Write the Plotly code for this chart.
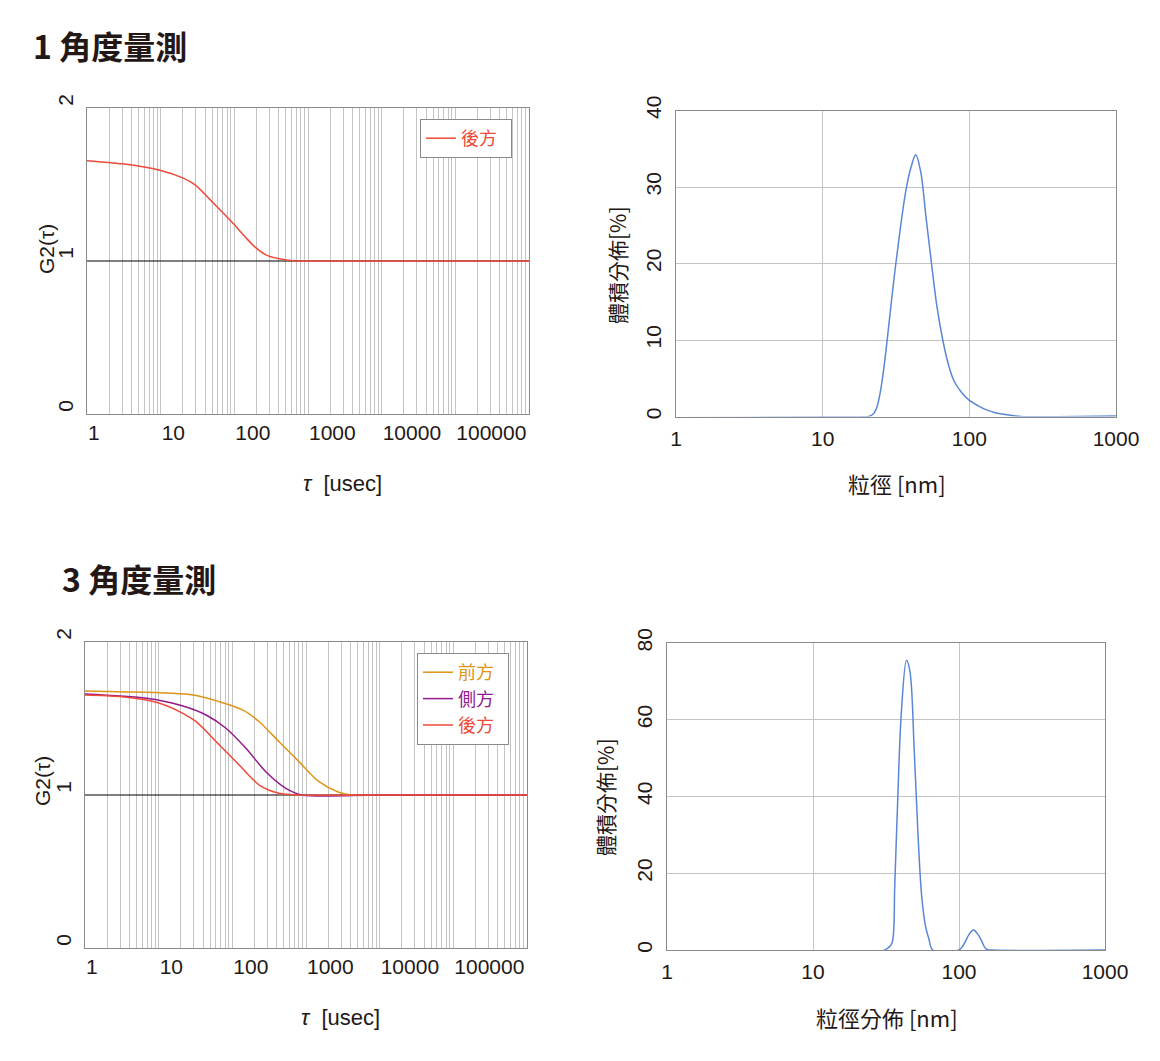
import plotly.graph_objects as go

# page body has an 8px margin: figure is drawn at (8, 8)
OFF = 8
W, H = 1160 - OFF, 1061 - OFF

# ---------------- data ----------------
# 1-angle measurement: correlation function (後方)
tau_back1 = [1, 3, 9.5, 20.6, 29.7, 49.7, 67.7, 92, 140, 190, 273, 392, 658, 1000, 10000, 1000000]
g2_back1 = [1.656, 1.635, 1.595, 1.54, 1.496, 1.388, 1.322, 1.256, 1.158, 1.092, 1.038, 1.016, 1.0, 1.0, 1.0, 1.0]

# 1-angle measurement: volume distribution
d1_nm = [1, 3.2, 10, 18, 20.6, 22, 23.2, 24.5, 26, 31.5, 36.9, 40.2, 43.1, 46.5, 50.7, 55.3, 60, 65.9,
         72, 78.4, 88, 100, 115, 131, 150, 177, 224, 400, 1000]
vol1 = [-0.15, -0.12, -0.08, -0.05, 0.0, 0.3, 1.0, 2.8, 6.0, 19.9, 29.5, 32.7, 34.2, 32.1, 26.0, 19.9, 14.5, 10.0,
        6.8, 4.7, 3.2, 2.1, 1.4, 0.87, 0.5, 0.26, 0.0, -0.02, 0.05]

# 3-angle measurement: correlation functions
tau_front = [1, 2.97, 29.1, 66.7, 138, 232, 431, 804, 1500, 2790, 4225, 10000, 1000000]
g2_front = [1.68, 1.675, 1.654, 1.61, 1.556, 1.479, 1.348, 1.218, 1.087, 1.018, 1.0, 1.0, 1.0]
tau_side = [1, 6.8, 19.2, 44, 82, 153, 285, 532, 891, 10000, 1000000]
g2_side = [1.66, 1.632, 1.588, 1.523, 1.436, 1.305, 1.152, 1.044, 1.0, 1.0, 1.0]
tau_back3 = [1, 2.97, 10.3, 21.3, 32.3, 66.7, 124, 232, 431, 804, 10000, 1000000]
g2_back3 = [1.654, 1.643, 1.6, 1.534, 1.479, 1.327, 1.196, 1.065, 1.011, 1.0, 1.0, 1.0]
baseline_tau = [1, 1000000]
baseline_g2 = [1.0, 1.0]

# 3-angle measurement: volume distribution
d3_nm = [1, 10, 30, 32.8, 34.8, 36.3, 38.0, 40.3, 43.7, 46.1, 49.4, 52.4, 55.5, 58.9, 62.3, 66.1, 100, 108, 117,
         125.6, 134, 141, 154, 170, 1000]
vol3 = [-0.25, -0.25, -0.2, 0.6, 1.9, 16.8, 38.6, 62, 75.5, 72.7, 51.7, 29.9, 14.1, 6.3, 2.8, 0, 0, 1.5, 4,
        5.2, 4.2, 2.8, 0.2, 0, 0]

# tick labels
tau_labels = ["1", "10", "100", "1000", "10000", "100000"]
nm_labels = ["1", "10", "100", "1000"]
g2_ticks = [0, 1, 2]
vol1_ticks = [0, 10, 20, 30, 40]
vol3_ticks = [0, 20, 40, 60, 80]

names = {"front": "前方", "side": "側方", "back": "後方"}
C_FRONT, C_SIDE, C_BACK = "#DE9417", "#92198E", "#EE4A3A"
C_BLUE = "#5A86D6"

FONT = "Liberation Sans, Arial, Noto Sans CJK TC, sans-serif"
CJK = "Noto Sans CJK TC, Liberation Sans, sans-serif"
TXT = "#231815"
GRID = "#C4C4C4"
BORDER = "#8A8A8A"

# ---------------- figure ----------------
fig = go.Figure()

def px_dom_x(a, b):
    return [(a - OFF) / W, (b - OFF) / W]

def px_dom_y(top, bottom):
    return [1 - (bottom - OFF) / H, 1 - (top - OFF) / H]

def px_x(a):
    return (a - OFF) / W

def px_y(b):
    return 1 - (b - OFF) / H

# baselines
fig.add_trace(go.Scatter(x=baseline_tau, y=baseline_g2, mode="lines", line=dict(color="black", width=1.2),
                         showlegend=False, xaxis="x", yaxis="y", hoverinfo="skip"))
fig.add_trace(go.Scatter(x=baseline_tau, y=baseline_g2, mode="lines", line=dict(color="black", width=1.2),
                         showlegend=False, xaxis="x3", yaxis="y3", hoverinfo="skip"))

def lab(name, color):
    return f"<span style='color:{color}'>{name}</span>\u00a0\u00a0"

fig.add_trace(go.Scatter(x=tau_back1, y=g2_back1, mode="lines", name=lab(names["back"], C_BACK),
                         line=dict(color=C_BACK, width=1.5, shape="spline", smoothing=0.8),
                         xaxis="x", yaxis="y", legend="legend"))
fig.add_trace(go.Scatter(x=d1_nm, y=vol1, mode="lines", showlegend=False,
                         line=dict(color=C_BLUE, width=1.5, shape="spline", smoothing=1.0),
                         xaxis="x2", yaxis="y2"))
fig.add_trace(go.Scatter(x=tau_front, y=g2_front, mode="lines", name=lab(names["front"], C_FRONT),
                         line=dict(color=C_FRONT, width=1.5, shape="spline", smoothing=0.8),
                         xaxis="x3", yaxis="y3", legend="legend2"))
fig.add_trace(go.Scatter(x=tau_side, y=g2_side, mode="lines", name=lab(names["side"], C_SIDE),
                         line=dict(color=C_SIDE, width=1.5, shape="spline", smoothing=0.8),
                         xaxis="x3", yaxis="y3", legend="legend2"))
fig.add_trace(go.Scatter(x=tau_back3, y=g2_back3, mode="lines", name=lab(names["back"], C_BACK),
                         line=dict(color=C_BACK, width=1.5, shape="spline", smoothing=0.8),
                         xaxis="x3", yaxis="y3", legend="legend2"))
fig.add_trace(go.Scatter(x=d3_nm, y=vol3, mode="lines", showlegend=False,
                         line=dict(color=C_BLUE, width=1.5, shape="spline", smoothing=1.0),
                         xaxis="x4", yaxis="y4"))

# tick positions for log tau axis (all minor gridlines 1..9 per decade)
tau_tickvals, tau_ticktext = [], []
for k in range(6):
    for m in range(1, 10):
        tau_tickvals.append(m * 10 ** k)
        tau_ticktext.append(tau_labels[k] if m == 1 else "")
tau_tickvals.append(10 ** 6)
tau_ticktext.append("")

nm_tickvals = [1, 10, 100, 1000]

common_axis = dict(showline=True, mirror=True, linecolor=BORDER, linewidth=1, zeroline=False,
                   automargin=False, tickfont=dict(family=FONT, size=21, color=TXT))
hidden_tick = dict(ticks="outside", tickcolor="rgba(0,0,0,0)")

fig.update_layout(
    template="none",
    width=W, height=H, margin=dict(l=0, r=0, t=0, b=0, autoexpand=False),
    paper_bgcolor="white", plot_bgcolor="white",
    font=dict(family=FONT, color=TXT),
    xaxis=dict(domain=px_dom_x(87, 529), type="log", range=[0, 6], anchor="y",
               tickvals=tau_tickvals, ticktext=tau_ticktext, showgrid=True, gridcolor=GRID, gridwidth=1,
               tickangle=0, ticklen=4, ticklabelposition="outside right", **hidden_tick, **common_axis),
    yaxis=dict(domain=px_dom_y(108, 414), range=[0, 2], anchor="x", tickvals=g2_ticks, showgrid=False,
               tickangle=-90, ticklen=5, ticklabelshift=-5, **hidden_tick, **common_axis),
    xaxis2=dict(domain=px_dom_x(676, 1116), type="log", range=[0, 3], anchor="y2",
                tickvals=nm_tickvals, ticktext=nm_labels, showgrid=True, gridcolor=GRID, gridwidth=1,
                tickangle=0, ticklen=3, **hidden_tick, **common_axis),
    yaxis2=dict(domain=px_dom_y(110.5, 416.5), range=[0, 40], anchor="x2", tickvals=vol1_ticks,
                showgrid=True, gridcolor=GRID, gridwidth=1,
                tickangle=-90, ticklen=6, **hidden_tick, **common_axis),
    xaxis3=dict(domain=px_dom_x(85, 527), type="log", range=[0, 6], anchor="y3",
                tickvals=tau_tickvals, ticktext=tau_ticktext, showgrid=True, gridcolor=GRID, gridwidth=1,
                tickangle=0, ticklen=4, ticklabelposition="outside right", **hidden_tick, **common_axis),
    yaxis3=dict(domain=px_dom_y(642, 948), range=[0, 2], anchor="x3", tickvals=g2_ticks, showgrid=False,
                tickangle=-90, ticklen=5, ticklabelshift=-5, **hidden_tick, **common_axis),
    xaxis4=dict(domain=px_dom_x(667, 1105), type="log", range=[0, 3], anchor="y4",
                tickvals=nm_tickvals, ticktext=nm_labels, showgrid=True, gridcolor=GRID, gridwidth=1,
                tickangle=0, ticklen=3, **hidden_tick, **common_axis),
    yaxis4=dict(domain=px_dom_y(643, 950), range=[0, 80], anchor="x4", tickvals=vol3_ticks,
                showgrid=True, gridcolor=GRID, gridwidth=1,
                tickangle=-90, ticklen=6, **hidden_tick, **common_axis),
    legend=dict(x=px_x(420), y=px_y(119), xanchor="left", yanchor="top", bgcolor="white",
                bordercolor=BORDER, borderwidth=1, font=dict(family=CJK, size=18),
                itemwidth=30),
    legend2=dict(x=px_x(417), y=px_y(653), xanchor="left", yanchor="top", bgcolor="white",
                 bordercolor=BORDER, borderwidth=1, font=dict(family=CJK, size=18),
                 itemwidth=30),
)

def ann(text, px, py, size, angle=0, family=FONT, xanchor="center", bold=False):
    fig.add_annotation(text=(f"<b>{text}</b>" if bold else text), x=px_x(px), y=px_y(py),
                       xref="paper", yref="paper", showarrow=False, textangle=angle,
                       xanchor=xanchor, yanchor="middle",
                       font=dict(family=family, size=size, color=TXT))

# section titles
ann("1 角度量測", 31, 45, 32, family=CJK, xanchor="left", bold=True)
ann("3 角度量測", 60, 578, 32, family=CJK, xanchor="left", bold=True)

# axis titles
ann("G2(τ)", 46, 249, 21, angle=-90)
ann("G2(τ)", 42, 781, 21, angle=-90)
ann("體積分佈[%]", 617, 265, 21, angle=-90, family=CJK)
ann("體積分佈[%]", 605, 797, 21, angle=-90, family=CJK)
ann("<i>τ</i>\u00a0\u00a0[usec]", 342, 483, 22)
ann("<i>τ</i>\u00a0\u00a0[usec]", 340, 1017, 22)
ann("粒徑 [nm]", 897, 483, 22, family=CJK)
ann("粒徑分佈 [nm]", 887, 1017, 22, family=CJK)

fig.write_html("out.html")
